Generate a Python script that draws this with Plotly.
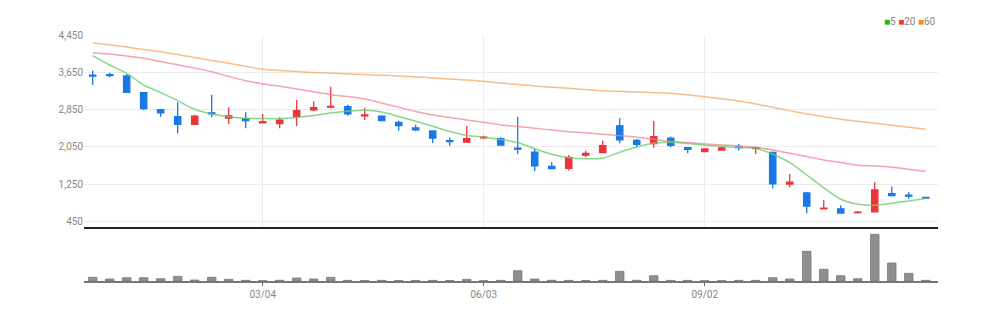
import pandas as pd
import plotly.graph_objects as go

# ---- data (weekly) ----
dates = [d.strftime("%Y-%m-%d") for d in pd.date_range("2023-12-25", periods=50, freq="7D")]

opens = [3590, 3600, 3570, 3210, 2850, 2700, 2530, 2780, 2665, 2650,
         2565, 2550, 2700, 2845, 2900, 2910, 2715, 2710, 2575, 2455,
         2390, 2180, 2150, 2240, 2225, 2020, 1935, 1630, 1590, 1870,
         1925, 2500, 2190, 2120, 2235, 2030, 1950, 1980, 2050, 2010,
         1930, 1250, 1060, 720, 720, 640, 655, 1045, 1010, 965]
highs = [3684, 3641, 3607, 3227, 2869, 3006, 2740, 3170, 2899, 2792,
         2755, 2683, 3056, 3028, 3341, 2955, 2891, 2727, 2612, 2526,
         2395, 2247, 2498, 2290, 2256, 2697, 2011, 1719, 1876, 1968,
         2183, 2663, 2219, 2605, 2269, 2041, 2010, 2054, 2112, 2054,
         1947, 1469, 1082, 911, 797, 675, 1290, 1196, 1082, 975]
lows = [3377, 3543, 3215, 2841, 2697, 2341, 2526, 2683, 2534, 2449,
        2560, 2449, 2498, 2820, 2895, 2719, 2627, 2598, 2397, 2384,
        2127, 2069, 2145, 2213, 2080, 1897, 1533, 1570, 1539, 1827,
        1920, 2127, 2033, 2033, 2041, 1913, 1940, 1975, 1968, 1897,
        1153, 1183, 626, 715, 626, 617, 638, 1000, 932, 939]
closes = [3570, 3580, 3220, 2870, 2780, 2530, 2710, 2760, 2715, 2615,
          2590, 2625, 2825, 2890, 2920, 2760, 2735, 2615, 2505, 2415,
          2235, 2160, 2225, 2255, 2085, 2000, 1640, 1585, 1825, 1910,
          2075, 2200, 2105, 2270, 2080, 1995, 2005, 2025, 2035, 2030,
          1255, 1290, 780, 735, 630, 650, 1125, 1005, 990, 950]
volumes = [74000, 40000, 66000, 66000, 46000, 94000, 20000, 74000, 34000, 14000,
           6000, 14000, 60000, 40000, 74000, 12000, 10000, 13000, 9000, 11000,
           12000, 10000, 34000, 6000, 12000, 206000, 40000, 14000, 12000, 10000,
           13000, 194000, 14000, 106000, 12000, 12000, 6000, 6000, 12000, 12000,
           66000, 40000, 594000, 234000, 106000, 46000, 934000, 360000, 154000, 14000]

ma5 = [4006, 3806, 3628, 3377, 3212, 3041, 2856, 2755, 2697, 2663,
       2660, 2655, 2680, 2720, 2775, 2815, 2835, 2795, 2700, 2598,
       2490, 2380, 2295, 2256, 2205, 2142, 2010, 1890, 1815, 1795,
       1806, 1935, 2045, 2125, 2146, 2120, 2085, 2062, 2030, 2019,
       1890, 1712, 1445, 1170, 925, 818, 795, 840, 888, 941]
ma20 = [4070, 4040, 4000, 3950, 3880, 3810, 3740, 3660, 3560, 3470,
        3400, 3350, 3290, 3230, 3170, 3130, 3077, 2990, 2900, 2810,
        2734, 2680, 2627, 2575, 2520, 2485, 2449, 2410, 2376, 2350,
        2320, 2290, 2256, 2213, 2162, 2140, 2112, 2091, 2069, 2041,
        1983, 1913, 1840, 1769, 1711, 1655, 1640, 1612, 1569, 1518]
ma60 = [4285, 4240, 4190, 4140, 4092, 4030, 3965, 3905, 3843, 3780,
        3714, 3690, 3665, 3645, 3630, 3615, 3600, 3585, 3571, 3550,
        3528, 3507, 3485, 3455, 3420, 3388, 3356, 3330, 3305, 3280,
        3255, 3240, 3227, 3213, 3199, 3165, 3127, 3080, 3034, 2967,
        2899, 2827, 2755, 2698, 2641, 2598, 2556, 2513, 2470, 2427]

tick_dates = ["2024-03-04", "2024-06-03", "2024-09-02"]
tick_text = ["03/04", "06/03", "09/02"]
price_ticks = [450, 1250, 2050, 2850, 3650, 4450]

UP = "#e8363c"
DOWN = "#1a78e6"
FONT = "Liberation Sans Narrow, Roboto, Arial, sans-serif"

fig = go.Figure()

for vals, col, op in [(ma60, "#f5a35a", 0.7), (ma20, "#f07f8a", 0.7), (ma5, "#6fcc6f", 0.8)]:
    fig.add_trace(go.Scatter(x=dates, y=vals, mode="lines",
                             line=dict(color=col, width=1.5, shape="spline", smoothing=1.0),
                             opacity=op, showlegend=False, xaxis="x", yaxis="y", hoverinfo="skip"))

fig.add_trace(go.Candlestick(
    x=dates, open=opens, high=highs, low=lows, close=closes,
    increasing=dict(line=dict(color=UP, width=1.3), fillcolor=UP),
    decreasing=dict(line=dict(color=DOWN, width=1.3), fillcolor=DOWN),
    whiskerwidth=0, showlegend=False, xaxis="x", yaxis="y"))

fig.add_trace(go.Bar(x=dates, y=volumes, marker=dict(color="#8f8f8f", line=dict(color="#7a7a7a", width=0.8)),
                     showlegend=False, xaxis="x2", yaxis="y2"))

xr = [-0.51, 49.72]
fig.update_layout(
    width=999, height=316,
    margin=dict(l=84, r=61, t=35, b=35),
    paper_bgcolor="white", plot_bgcolor="white",
    boxgap=0.47, bargap=0.5,
    font=dict(family=FONT, size=10, color="#888"),
    xaxis=dict(type="category", domain=[0, 1], anchor="y", range=xr,
               tickvals=tick_dates, ticktext=tick_text, showticklabels=False,
               showgrid=True, gridcolor="#ececec", gridwidth=1,
               showline=True, linecolor="#222", linewidth=2,
               rangeslider=dict(visible=False), zeroline=False),
    yaxis=dict(domain=[0.218, 1], anchor="x", range=[321, 4450],
               tickvals=price_ticks, tickformat=",d",
               showgrid=True, gridcolor="#ececec", gridwidth=1,
               zeroline=False, showline=False, ticks="",
               tickfont=dict(family=FONT, size=10, color="#888")),
    xaxis2=dict(type="category", domain=[0, 1], anchor="y2", matches="x", range=xr,
                tickvals=tick_dates, ticktext=tick_text, showgrid=False,
                ticks="outside", ticklen=3, tickcolor="#666",
                showline=True, linecolor="#777", linewidth=1.5,
                tickfont=dict(family=FONT, size=10, color="#888")),
    yaxis2=dict(domain=[0, 0.2], anchor="x2", range=[0, 984000],
                showgrid=False, showticklabels=False, zeroline=False, ticks=""),
    annotations=[dict(
        xref="paper", yref="paper", x=1.0, y=1.053, xanchor="right", yanchor="middle",
        showarrow=False,
        text='<span style="color:#22b322">■</span>5 '
             '<span style="color:#e8363c">■</span>20 '
             '<span style="color:#f08c2a">■</span>60',
        font=dict(family=FONT, size=10, color="#888"))],
)

fig.write_html("out.html")
